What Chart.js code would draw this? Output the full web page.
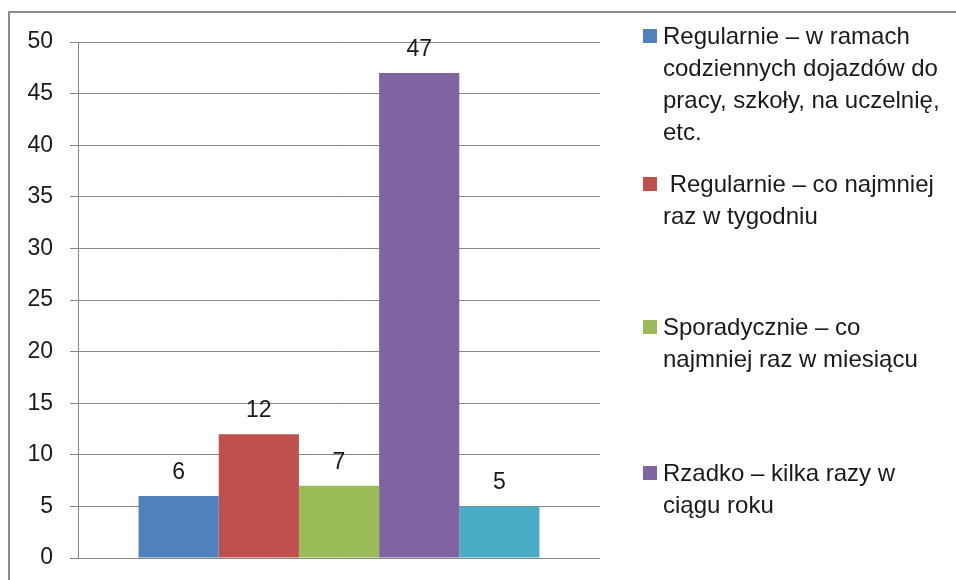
<!DOCTYPE html>
<html>
<head>
<meta charset="utf-8">
<script src="https://cdn.jsdelivr.net/npm/chart.js@4.4.1/dist/chart.umd.min.js"></script>
<style>
  html, body { margin: 0; padding: 0; background: #fff; overflow: hidden; width: 956px; height: 580px; }
  #frame { position: absolute; left: 8px; top: 11px; width: 1000px; height: 700px; border: 2px solid #8a8a8a; }
  #wrap { position: absolute; left: 0; top: 0; width: 956px; height: 580px; }
  #legend { position: absolute; left: 0; top: 0; font-family: "Liberation Sans", Arial, sans-serif; font-size: 24px; color: #1a1a1a; }
  .item { position: absolute; left: 643px; width: 320px; }
  .box { position: absolute; left: 0; top: 9px; width: 14px; height: 14px; }
  .txt { position: absolute; left: 20px; top: 0; line-height: 32px; white-space: nowrap; }
</style>
</head>
<body>
<div id="frame"></div>
<div id="wrap"><canvas id="barChart" width="956" height="580"></canvas></div>
<div id="legend"></div>
<script>
// series (one category, five answers)
const seriesNames = [
    ['Regularnie \u2013 w ramach', 'codziennych dojazdów do', 'pracy, szkoły, na uczelnię,', 'etc.'],
    ['\u00a0Regularnie \u2013 co najmniej', 'raz w tygodniu'],
    ['Sporadycznie \u2013 co', 'najmniej raz w miesiącu'],
    ['Rzadko \u2013 kilka razy w', 'ciągu roku'],
    ['']
]
const seriesValues = [6, 12, 7, 47, 5]
const seriesColors = ['#4F81BD', '#C0504D', '#9BBB59', '#8064A2', '#4BACC6']
const categories = ['']
const yTicks = [0, 5, 10, 15, 20, 25, 30, 35, 40, 45, 50]

const legendTops = [20, 168, 311, 457, 603]

// value labels above each bar
const valueLabels = {
    id: 'valueLabels',
    afterDatasetsDraw(chart) {
        const ctx = chart.ctx
        ctx.save()
        ctx.font = '23px "Liberation Sans", Arial, sans-serif'
        ctx.fillStyle = '#1a1a1a'
        ctx.textAlign = 'center'
        ctx.textBaseline = 'bottom'
        chart.data.datasets.forEach(function (ds, i) {
            const bar = chart.getDatasetMeta(i).data[0]
            ctx.fillText(String(ds.data[0]), bar.x, bar.y - 12)
        })
        ctx.restore()
    }
}

let datasets = []
for (var i = 0; i < seriesValues.length; i++) {
    datasets.push({
        label: seriesNames[i].join(' '),
        data: [seriesValues[i]],
        backgroundColor: seriesColors[i],
        borderWidth: 0
    })
}

new Chart(document.getElementById('barChart'), {
    type: 'bar',
    data: { labels: categories, datasets: datasets },
    options: {
        responsive: false,
        animation: false,
        categoryPercentage: 0.768,
        barPercentage: 1,
        layout: { padding: { left: 0, right: 356, top: 42, bottom: 22 } },
        plugins: { legend: { display: false }, tooltip: { enabled: false } },
        scales: {
            x: {
                display: false
            },
            y: {
                min: 0,
                max: 50,
                afterFit: function (s) {
                    s.width = 78
                    s.paddingTop = 0
                    s.paddingBottom = 0
                },
                afterBuildTicks: function (s) { s.ticks = yTicks.map(v => ({ value: v })) },
                grid: { color: '#868686', lineWidth: 1, tickLength: 8 },
                border: { color: '#868686', width: 1 },
                ticks: {
                    padding: 17,
                    color: '#1a1a1a',
                    font: { family: '"Liberation Sans", Arial, sans-serif', size: 23 }
                }
            }
        }
    },
    plugins: [valueLabels]
})

// legend with wrapped lines, like the original
const legend = document.getElementById('legend')
for (var i = 0; i < seriesNames.length; i++) {
    const item = document.createElement('div')
    item.className = 'item'
    item.style.top = legendTops[i] + 'px'
    item.innerHTML = '<div class="box" style="background:' + seriesColors[i] + '"></div>' +
        '<div class="txt">' + seriesNames[i].join('<br>') + '</div>'
    legend.appendChild(item)
}
</script>
</body>
</html>
